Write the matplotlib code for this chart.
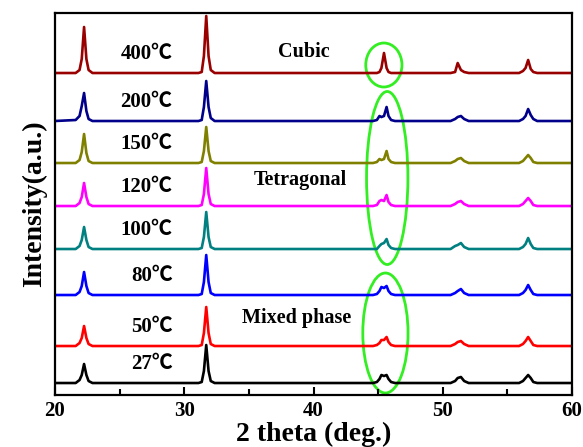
import numpy as np
import matplotlib
matplotlib.use('Agg')
import matplotlib.pyplot as plt
from matplotlib.patches import Ellipse

# 2 theta sample points (shared by all patterns)
two_theta = [20.0, 21.6, 21.9, 22.07, 22.25, 22.43, 22.6, 22.9,
             31.1, 31.35, 31.52, 31.7, 31.88, 32.05, 32.35,
             44.6, 44.9, 45.1, 45.25, 45.45, 45.65, 45.8, 46.0, 46.3,
             50.6, 50.95, 51.15, 51.4, 51.65, 52.0,
             55.9, 56.2, 56.4, 56.6, 56.8, 57.0, 57.3, 60.0]

labels = ['27℃', '50℃', '80℃', '100℃', '120℃', '150℃', '200℃', '400℃']
colors = ['#000000', '#ff0000', '#0000ff', '#008080', '#ff00ff', '#808000', '#00008b', '#990000']
offsets = [12, 49, 100, 146, 189, 232, 274, 322]

i_27 = [0, 0, 3, 8, 19, 8, 2, 0,
        0, 1, 12, 38, 12, 2, 0,
        0, 1, 4, 8, 7, 8, 4, 1, 0,
        0, 2, 5, 6, 2, 0,
        0, 2, 5, 8, 5, 1, 0, 0]
i_50 = [0, 0, 3, 8, 20, 8, 2, 0,
        0, 1, 13, 39, 13, 2, 0,
        0, 1, 3, 6, 6, 9, 4, 1, 0,
        0, 2, 4, 5, 2, 0,
        0, 2, 5, 9, 5, 1, 0, 0]
i_80 = [0, 0, 3, 9, 23, 9, 2, 0,
        0, 1, 13, 40, 13, 2, 0,
        0, 1, 4, 8, 7, 9, 4, 1, 0,
        0, 2, 4, 6, 2, 0,
        0, 2, 5, 10, 5, 1, 0, 0]
i_100 = [0, 0, 3, 9, 22, 9, 2, 0,
         0, 1, 12, 37, 12, 2, 0,
         0, 0, 3, 5, 6, 10, 4, 1, 0,
         0, 3, 4, 6, 2, 0,
         0, 2, 5, 11, 5, 1, 0, 0]
i_120 = [0, 0, 3, 9, 23, 9, 2, 0,
         0, 1, 12, 38, 12, 2, 0,
         0, 1, 5, 6, 5, 11, 4, 1, 0,
         0, 2, 4, 5, 2, 0,
         0, 2, 5, 8, 5, 1, 0, 0]
i_150 = [0, 0, 3, 11, 29, 10, 2, 0,
         0, 1, 12, 36, 12, 2, 0,
         0, 1, 4, 3, 4, 12, 4, 1, 0,
         0, 2, 4, 5, 2, 0,
         0, 2, 5, 8, 5, 1, 0, 0]
i_200 = [0, 1, 5, 15, 28, 10, 2, 0,
         0, 1, 14, 40, 14, 3, 0,
         0, 1, 5, 4, 5, 14, 5, 1, 0,
         0, 2, 4, 5, 2, 0,
         0, 2, 5, 12, 6, 2, 0, 0]
i_400 = [0, 0, 3, 14, 46, 14, 3, 0,
         0, 1, 17, 57, 17, 3, 0,
         0, 0, 1, 5, 20, 5, 1, 0, 0,
         0, 1, 10, 3, 1, 0,
         0, 2, 5, 13, 4, 1, 0, 0]
patterns = [i_27, i_50, i_80, i_100, i_120, i_150, i_200, i_400]

serif = ['Liberation Serif', 'Noto Sans CJK SC', 'DejaVu Serif']
plt.rcParams['font.family'] = serif
plt.rcParams['font.weight'] = 'bold'

fig = plt.figure(figsize=(5.83, 4.47), dpi=100)
ax = fig.add_axes([0.0943, 0.1163, 0.887, 0.8546])

for y, lab, c, off in zip(patterns, labels, colors, offsets):
    ax.plot(two_theta, np.array(y) + off, color=c, lw=1.9)
    ax.text(29.1, off + 19, lab, ha='right', va='center', fontsize=15,
            fontweight='bold', family=serif)

ax.text(39.26, 343, 'Cubic', ha='center', va='center', fontsize=14.5, fontweight='bold')
ax.text(38.95, 215, 'Tetragonal', ha='center', va='center', fontsize=14.5, fontweight='bold')
ax.text(38.7, 77, 'Mixed phase', ha='center', va='center', fontsize=14.5, fontweight='bold')

green = '#33ee22'
ax.add_patch(Ellipse((45.44, 330), 2.8, 44, fill=False, ec=green, lw=2))
ax.add_patch(Ellipse((45.7, 217), 3.2, 173, fill=False, ec=green, lw=2))
ax.add_patch(Ellipse((45.56, 62), 3.5, 120, fill=False, ec=green, lw=2))

ax.set_xlim(20, 60)
ax.set_ylim(0, 382)
ax.set_xticks([20, 30, 40, 50, 60])
ax.set_xticks([25, 35, 45, 55], minor=True)
ax.set_yticks([])
ax.tick_params(axis='x', which='major', direction='in', length=6, width=1.5, labelsize=15, pad=4)
ax.tick_params(axis='x', which='minor', direction='in', length=4, width=1.5)
for lbl in ax.get_xticklabels():
    lbl.set_fontweight('bold')
for s in ax.spines.values():
    s.set_linewidth(1.6)

ax.set_xlabel('2 theta (deg.)', fontsize=20, fontweight='bold', labelpad=1)
ax.set_ylabel('Intensity(a.u.)', fontsize=20, fontweight='bold', labelpad=6)

fig.savefig('out.png', dpi=100)
